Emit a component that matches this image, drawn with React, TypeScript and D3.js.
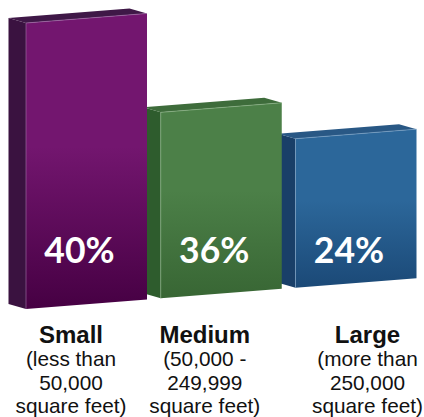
import React from "react";
import * as d3 from "d3";

const categories = ["Small", "Medium", "Large"];
const values = [40, 36, 24];
const valueLabels = ["40%", "36%", "24%"];
const subLabels = [
  ["(less than", "50,000", "square feet)"],
  ["(50,000 -", "249,999", "square feet)"],
  ["(more than", "250,000", "square feet)"],
];

const palette = [
  { frontTop: "#73166f", frontBottom: "#460043", side: "#3a1240", top: "#3f1847", edge: "#a070a8" },
  { frontTop: "#4c8048", frontBottom: "#386634", side: "#2e5c2d", top: "#3e6c3b", edge: "#8fb58a" },
  { frontTop: "#2c679a", frontBottom: "#1b4977", side: "#193f68", top: "#295885", edge: "#7fa6c8" },
];

const W = 424;
const H = 417;

export default function App() {
  const x = d3.scaleBand<string>().domain(categories).range([26, 416.5]).paddingInner(0.102).paddingOuter(0);
  // bar heights as drawn in the (non-proportional) reference graphic
  const h = d3.scaleLinear().domain([0, 24, 36, 40]).range([0, 149, 186, 286]);
  const slope = -0.079;
  const baseY = (px: number) => 309 + slope * (px - 26);
  const depth = { dx: -17.5, dy: -5 };
  const labelDx = [-15.5, -16.5, 11.5];
  const line = d3.line<[number, number]>();

  const order = d3.range(categories.length).reverse();

  return (
    <svg width={W} height={H} style={{ position: "absolute", left: 0, top: 0 }}>
      <defs>
        {palette.map((p, i) => (
          <linearGradient key={i} id={`g${i}`} x1="0" y1="0" x2="0" y2="1">
            <stop offset="0" stopColor={p.frontTop} />
            <stop offset="0.45" stopColor={p.frontTop} />
            <stop offset="1" stopColor={p.frontBottom} />
          </linearGradient>
        ))}
      </defs>
      {order.map((i) => {
        const c = categories[i];
        const p = palette[i];
        const x0 = x(c)!;
        const x1 = x0 + x.bandwidth();
        const hh = h(values[i]);
        const b0 = baseY(x0);
        const b1 = baseY(x1);
        const t0 = b0 - hh;
        const t1 = b1 - hh;
        const front: [number, number][] = [[x0, t0], [x1, t1], [x1, b1], [x0, b0]];
        const side: [number, number][] = [
          [x0 + depth.dx, t0 + depth.dy],
          [x0, t0],
          [x0, b0],
          [x0 + depth.dx, b0 + depth.dy],
        ];
        const top: [number, number][] = [
          [x0 + depth.dx, t0 + depth.dy],
          [x1 + depth.dx, t1 + depth.dy],
          [x1, t1],
          [x0, t0],
        ];
        return (
          <g key={c}>
            <path d={line(side) + "Z"} fill={p.side} />
            <path d={line(top) + "Z"} fill={p.top} />
            <path d={line(front) + "Z"} fill={`url(#g${i})`} />
            <path d={line([[x0, b0], [x0, t0], [x1, t1]])!} fill="none" stroke={p.edge} strokeWidth={0.8} strokeOpacity={0.8} />
          </g>
        );
      })}
      {categories.map((c, i) => {
        const cx = x(c)! + x.bandwidth() / 2;
        return (
          <text
            key={"v" + c}
            x={cx - 7}
            y={263}
            textAnchor="middle"
            fill="#ffffff"
            fontFamily="Lato, sans-serif"
            fontWeight={700}
            fontSize={35.5}
          >
            {valueLabels[i]}
          </text>
        );
      })}
      {categories.map((c, i) => {
        const cx = x(c)! + x.bandwidth() / 2 + labelDx[i];
        return (
          <g key={"l" + c} fill="#111111" fontFamily="'Liberation Sans', Arial, sans-serif" textAnchor="middle">
            <text x={cx} y={343} fontWeight={700} fontSize={24}>
              {c}
            </text>
            {subLabels[i].map((s, j) => (
              <text key={j} x={cx} y={366 + j * 23.5} fontSize={20.8}>
                {s}
              </text>
            ))}
          </g>
        );
      })}
    </svg>
  );
}
